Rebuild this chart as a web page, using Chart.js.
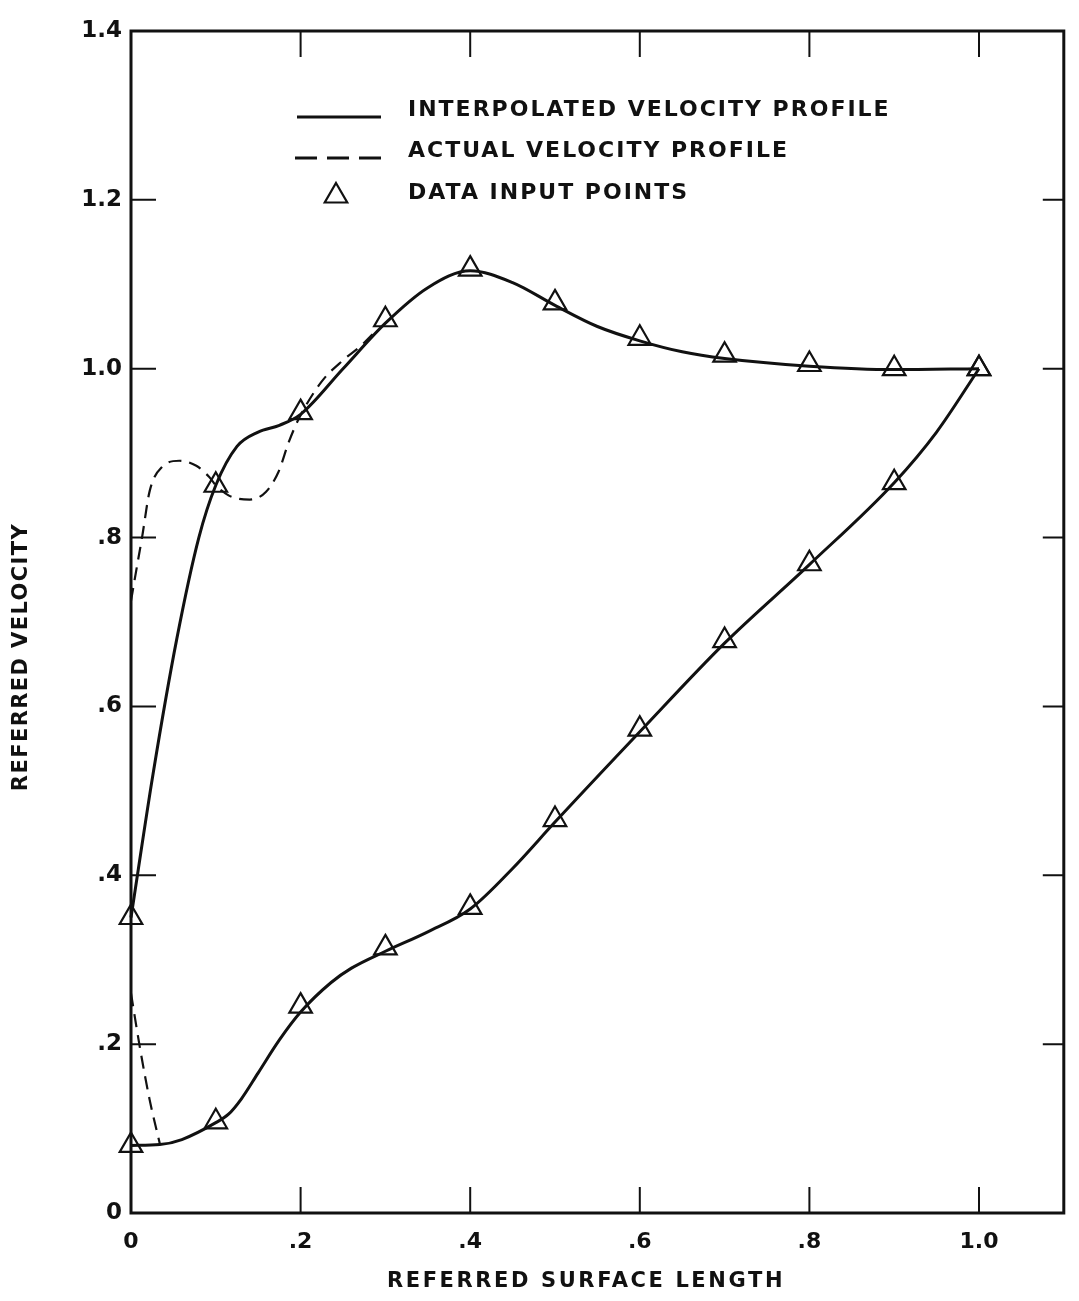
<!DOCTYPE html>
<html>
<head>
<meta charset="utf-8">
<title>Referred velocity profile</title>
<script src="https://cdn.jsdelivr.net/npm/chart.js@4.4.0/dist/chart.umd.min.js"></script>
<style>
  html, body { margin: 0; padding: 0; background: #fff; overflow: hidden; }
  #wrap { width: 1079px; height: 1301px; }
  #chart { display: block; }
</style>
</head>
<body>
<div id="wrap"><canvas id="chart" width="1079" height="1301"></canvas></div>
<script>
  // data input points (triangles)
  const inputX     = [0, 0.1, 0.2, 0.3, 0.4, 0.5, 0.6, 0.7, 0.8, 0.9, 1.0];
  const inputUpper = [0.35, 0.862, 0.948, 1.058, 1.118, 1.078, 1.036, 1.016, 1.005, 1.0, 1.0];
  const inputLower = [0.08, 0.108, 0.245, 0.314, 0.362, 0.466, 0.573, 0.678, 0.769, 0.865, 1.0];

  // interpolated velocity profile (solid)
  const interpUpperX = [0, 0.026, 0.054, 0.08, 0.1, 0.125, 0.15, 0.175, 0.2, 0.25, 0.3, 0.35, 0.4, 0.45, 0.5, 0.55, 0.6, 0.65, 0.7, 0.8, 0.9, 1.0];
  const interpUpperY = [0.35, 0.52, 0.68, 0.8, 0.862, 0.908, 0.925, 0.933, 0.946, 1.0, 1.054, 1.096, 1.116, 1.102, 1.075, 1.05, 1.033, 1.02, 1.012, 1.003, 0.999, 1.0];
  const interpLowerX = [0, 0.034, 0.06, 0.1, 0.115, 0.13, 0.15, 0.175, 0.2, 0.236, 0.26, 0.3, 0.35, 0.4, 0.45, 0.5, 0.6, 0.7, 0.8, 0.9, 0.95, 1.0];
  const interpLowerY = [0.08, 0.081, 0.087, 0.107, 0.117, 0.135, 0.166, 0.205, 0.238, 0.273, 0.29, 0.31, 0.333, 0.36, 0.408, 0.463, 0.57, 0.675, 0.768, 0.865, 0.925, 1.0];

  // actual velocity profile (dashed), only where it leaves the solid curve
  const actualUpperX = [0, 0.006, 0.013, 0.022, 0.037, 0.057, 0.077, 0.092, 0.1, 0.115, 0.127, 0.14, 0.159, 0.174, 0.186, 0.198, 0.225, 0.25, 0.271, 0.29];
  const actualUpperY = [0.725, 0.76, 0.8, 0.855, 0.884, 0.891, 0.885, 0.872, 0.862, 0.85, 0.846, 0.845, 0.854, 0.878, 0.913, 0.941, 0.985, 1.01, 1.027, 1.046];
  const actualLowerX = [0, 0.011, 0.022, 0.034];
  const actualLowerY = [0.26, 0.193, 0.134, 0.082];

  const xTickValues = [0, 0.2, 0.4, 0.6, 0.8, 1.0];
  const xTickLabels = ["0", ".2", ".4", ".6", ".8", "1.0"];
  const yTickValues = [0, 0.2, 0.4, 0.6, 0.8, 1.0, 1.2, 1.4];
  const yTickLabels = ["0", ".2", ".4", ".6", ".8", "1.0", "1.2", "1.4"];

  const legendLabels = ["INTERPOLATED VELOCITY PROFILE", "ACTUAL VELOCITY PROFILE", "DATA INPUT POINTS"];
  const xTitle = "REFERRED SURFACE LENGTH";
  const yTitle = "REFERRED VELOCITY";

  const INK = "#111";
  const FONT = "'DejaVu Sans', sans-serif";

  function pts(xs, ys) {
    return xs.map((x, i) => ({ x: x, y: ys[i] }));
  }

  function lineSet(xs, ys, dashed) {
    return {
      data: pts(xs, ys),
      showLine: true,
      borderColor: INK,
      borderWidth: dashed ? 2.2 : 3,
      borderDash: dashed ? [13, 8] : [],
      pointRadius: 0,
      cubicInterpolationMode: "monotone",
      clip: false,
    };
  }

  // frame, inward ticks, legend and axis titles
  const decorations = {
    id: "decorations",
    beforeDatasetsDraw(chart) {
      const { ctx, chartArea: a, scales } = chart;
      ctx.save();
      ctx.strokeStyle = INK;
      ctx.lineWidth = 3;
      ctx.strokeRect(a.left, a.top, a.right - a.left, a.bottom - a.top);
      ctx.lineWidth = 2;
      ctx.beginPath();
      yTickValues.slice(1, -1).forEach((v) => {
        const py = scales.y.getPixelForValue(v);
        ctx.moveTo(a.left, py); ctx.lineTo(a.left + 25, py);
        ctx.moveTo(a.right, py); ctx.lineTo(a.right - 21, py);
      });
      xTickValues.slice(1).forEach((v) => {
        const px = scales.x.getPixelForValue(v);
        ctx.moveTo(px, a.bottom); ctx.lineTo(px, a.bottom - 26);
        ctx.moveTo(px, a.top); ctx.lineTo(px, a.top + 26);
      });
      ctx.stroke();
      ctx.restore();
    },
    afterDraw(chart) {
      const { ctx } = chart;
      ctx.save();
      ctx.fillStyle = INK;
      ctx.strokeStyle = INK;

      // legend
      const lx0 = 297, lx1 = 381, tx = 408;
      const rows = [110, 151, 193];
      ctx.lineWidth = 3;
      ctx.beginPath(); ctx.moveTo(lx0, rows[0] + 7); ctx.lineTo(lx1, rows[0] + 7); ctx.stroke();
      ctx.setLineDash([22, 10]);
      ctx.beginPath(); ctx.moveTo(lx0 - 2, rows[1] + 7); ctx.lineTo(lx1 + 2, rows[1] + 7); ctx.stroke();
      ctx.setLineDash([]);
      ctx.lineWidth = 2.2;
      ctx.fillStyle = "rgba(0,0,0,0)";
      Chart.helpers.drawPoint(ctx, { pointStyle: "triangle", radius: 13, rotation: 0, borderWidth: 2.2 }, 336, rows[2] + 3);

      ctx.fillStyle = INK;
      ctx.font = "bold 22px " + FONT;
      ctx.letterSpacing = "2px";
      ctx.textBaseline = "middle";
      ctx.textAlign = "left";
      legendLabels.forEach((t, i) => ctx.fillText(t, tx, rows[i]));

      // axis titles
      ctx.font = "bold 21px " + FONT;
      ctx.letterSpacing = "2.6px";
      ctx.textAlign = "center";
      ctx.fillText(xTitle, 586, 1282);
      ctx.letterSpacing = "1.4px";
      ctx.translate(22, 657);
      ctx.rotate(-Math.PI / 2);
      ctx.fillText(yTitle, 0, 0);
      ctx.restore();
    },
  };

  new Chart(document.getElementById("chart"), {
    type: "scatter",
    data: {
      datasets: [
        lineSet(interpUpperX, interpUpperY, false),
        lineSet(interpLowerX, interpLowerY, false),
        lineSet(actualUpperX, actualUpperY, true),
        lineSet(actualLowerX, actualLowerY, true),
        {
          data: pts(inputX, inputUpper).concat(pts(inputX, inputLower)),
          showLine: false,
          pointStyle: "triangle",
          pointRadius: 13,
          pointBorderWidth: 2.2,
          pointBorderColor: INK,
          pointBackgroundColor: "rgba(0,0,0,0)",
          clip: false,
        },
      ],
    },
    options: {
      responsive: false,
      animation: false,
      devicePixelRatio: 1,
      layout: { padding: { left: 0, top: 31, right: 9, bottom: 0 } },
      plugins: { legend: { display: false }, tooltip: { enabled: false } },
      scales: {
        x: {
          type: "linear",
          min: 0,
          max: 1.1,
          grid: { display: false, drawTicks: false },
          border: { display: false },
          afterFit: (s) => { s.height = 88; s.paddingLeft = 0; s.paddingRight = 0; },
          afterBuildTicks: (s) => { s.ticks = xTickValues.map((v) => ({ value: v })); },
          ticks: {
            padding: 16,
            color: INK,
            font: { family: FONT, size: 22, weight: "bold" },
            callback: (v, i) => xTickLabels[i],
          },
        },
        y: {
          type: "linear",
          min: 0,
          max: 1.4,
          grid: { display: false, drawTicks: false },
          border: { display: false },
          afterFit: (s) => { s.width = 131; s.paddingTop = 0; s.paddingBottom = 0; },
          afterBuildTicks: (s) => { s.ticks = yTickValues.map((v) => ({ value: v })); },
          ticks: {
            padding: 9,
            color: INK,
            font: { family: FONT, size: 23, weight: "bold" },
            callback: (v, i) => yTickLabels[i],
          },
        },
      },
    },
    plugins: [decorations],
  });
</script>
</body>
</html>
